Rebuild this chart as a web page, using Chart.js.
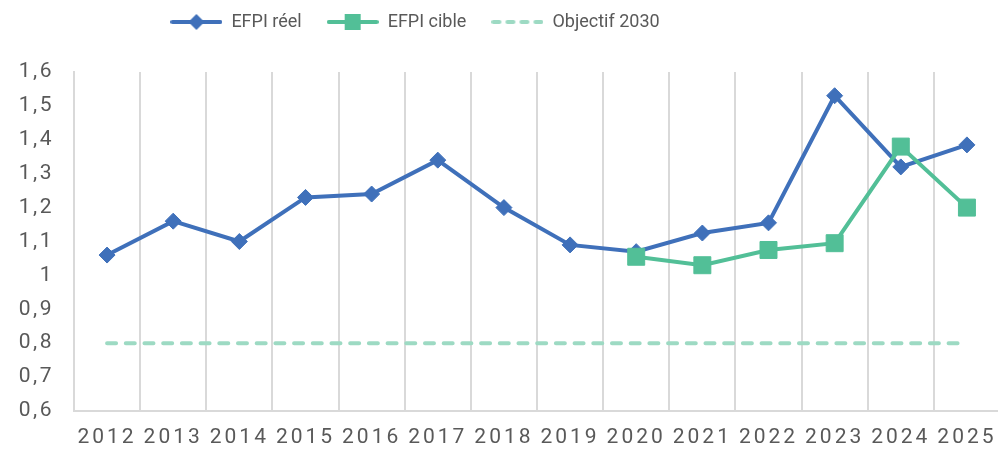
<!DOCTYPE html>
<html>
<head>
<meta charset="utf-8">
<script src="https://cdn.jsdelivr.net/npm/chart.js@4"></script>
<style>
  html, body { margin: 0; padding: 0; background: #fff; }
  #wrap { width: 998px; height: 449px; }
</style>
</head>
<body>
<div id="wrap"><canvas id="chart"></canvas></div>
<script>
const years = ['2012', '2013', '2014', '2015', '2016', '2017', '2018', '2019', '2020', '2021', '2022', '2023', '2024', '2025'];
const efpiReel = [1.06, 1.16, 1.10, 1.23, 1.24, 1.34, 1.20, 1.09, 1.07, 1.125, 1.155, 1.53, 1.32, 1.385];
const efpiCible = [null, null, null, null, null, null, null, null, 1.055, 1.03, 1.075, 1.095, 1.38, 1.20];
const objectif2030 = [0.8, 0.8, 0.8, 0.8, 0.8, 0.8, 0.8, 0.8, 0.8, 0.8, 0.8, 0.8, 0.8, 0.8];
const yTicks = { min: 0.6, max: 1.6, step: 0.1 };

const BLUE = '#3F70BA';
const GREEN = '#52BF97';
const LIGHT = '#9DDAC3';
const TEXT = '#595959';
const GRID = '#D9D9D9';

// plot box of the original (the last category runs just past the canvas edge)
const AREA = { left: 74, top: 72, right: 1000, bottom: 411 };

// little legend swatches: a line with the marker in the middle
function swatch(color, marker, dashed) {
    const c = document.createElement('canvas');
    c.width = 52;
    c.height = 20;
    const g = c.getContext('2d');
    g.strokeStyle = color;
    g.lineWidth = dashed ? 4 : 4;
    g.lineCap = 'round';
    if (dashed) g.setLineDash([6, 8]);
    g.beginPath();
    g.moveTo(2, 10);
    g.lineTo(50, 10);
    g.stroke();
    g.fillStyle = color;
    if (marker === 'diamond') {
        g.beginPath();
        g.moveTo(26, 2); g.lineTo(34, 10); g.lineTo(26, 18); g.lineTo(18, 10);
        g.closePath();
        g.fill();
    } else if (marker === 'square') {
        g.fillRect(18, 2, 16, 16);
    }
    return c;
}

const swatches = [swatch(BLUE, 'diamond'), swatch(GREEN, 'square'), swatch(LIGHT, null, true)];

function spaced(scale, px) {
    if (scale._spaced) return;
    const orig = scale.drawLabels;
    scale.drawLabels = function (area) {
        const ctx = this.ctx;
        ctx.save();
        ctx.letterSpacing = px;
        orig.call(this, area);
        ctx.restore();
    };
    scale._spaced = true;
}

// pin the plot box, shift the legend, letter-space the tick labels
const tweaks = {
    id: 'tweaks',
    afterLayout(chart) {
        const a = chart.chartArea;
        Object.assign(a, AREA, { width: AREA.right - AREA.left, height: AREA.bottom - AREA.top });
        const x = chart.scales.x;
        const y = chart.scales.y;
        x.left = a.left; x.right = a.right; x.width = a.width;
        x.top = a.bottom; x.bottom = chart.height; x.height = chart.height - a.bottom;
        y.left = 0; y.right = a.left; y.width = a.left;
        y.top = a.top; y.bottom = a.bottom; y.height = a.height;
        x.configure();
        y.configure();
        chart.legend.top = -12;
        chart.legend.right -= 168;
    },
    beforeDraw(chart) {
        spaced(chart.scales.x, '3px');
        spaced(chart.scales.y, '2.5px');
    },
};

new Chart(document.getElementById('chart'), {
    type: 'line',
    data: {
        labels: years,
        datasets: [
            {
                label: 'EFPI réel',
                data: efpiReel,
                borderColor: BLUE,
                backgroundColor: BLUE,
                borderWidth: 4,
                pointStyle: 'rectRot',
                pointRadius: 8,
                pointBorderWidth: 1,
                tension: 0,
                order: 2,
            },
            {
                label: 'EFPI cible',
                data: efpiCible,
                borderColor: GREEN,
                backgroundColor: GREEN,
                borderWidth: 4,
                pointStyle: 'rect',
                pointRadius: 12,
                pointBorderWidth: 1,
                tension: 0,
                order: 1,
            },
            {
                label: 'Objectif 2030',
                data: objectif2030,
                borderColor: LIGHT,
                backgroundColor: LIGHT,
                borderWidth: 4,
                borderDash: [9, 9.7],
                borderCapStyle: 'round',
                pointRadius: 0,
                tension: 0,
                order: 3,
            },
        ],
    },
    options: {
        responsive: true,
        maintainAspectRatio: false,
        animation: false,
        layout: { padding: 0 },
        plugins: {
            tooltip: { enabled: false },
            legend: {
                position: 'top',
                labels: {
                    color: TEXT,
                    font: { family: 'Roboto', size: 18 },
                    usePointStyle: true,
                    pointStyleWidth: 52,
                    boxHeight: 18,
                    padding: 25,
                    generateLabels(chart) {
                        return chart.data.datasets.map((ds, i) => ({
                            text: ds.label,
                            fontColor: TEXT,
                            pointStyle: swatches[i],
                            datasetIndex: i,
                            hidden: false,
                            lineWidth: 0,
                        }));
                    },
                },
            },
        },
        scales: {
            x: {
                offset: true,
                grid: { offset: true, color: GRID, lineWidth: 2, drawTicks: false },
                border: { display: true, color: GRID, width: 2 },
                ticks: {
                    color: TEXT,
                    font: { family: 'Roboto', size: 21 },
                    padding: 14,
                    maxRotation: 0,
                    autoSkip: false,
                },
            },
            y: {
                min: yTicks.min,
                max: yTicks.max,
                grid: { display: false, drawTicks: false },
                border: { display: true, color: GRID, width: 2 },
                ticks: {
                    stepSize: yTicks.step,
                    color: TEXT,
                    font: { family: 'Roboto', size: 21 },
                    padding: 20,
                    callback: (v) => String(Number(v.toFixed(1))).replace('.', ','),
                },
            },
        },
    },
    plugins: [tweaks],
});
</script>
</body>
</html>
